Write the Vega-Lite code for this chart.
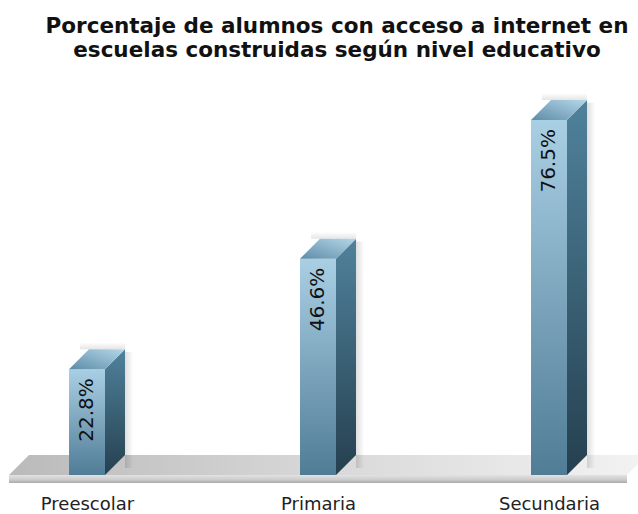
{
"$schema":"https://vega.github.io/schema/vega-lite/v6.json",
"width":638,"height":404,
"autosize":{"type":"none"},
"padding":{"top":80,"left":0,"right":0,"bottom":30},
"background":"white",
"view":{"stroke":null},
"title":{"text":["Porcentaje de alumnos con acceso a internet en","escuelas construidas según nivel educativo"],"anchor":"middle","dx":18,"offset":19,"font":"DejaVu Sans","fontSize":21.5,"fontWeight":"bold","lineHeight":24,"color":"#111111"},
"datasets":{
"bars":[
{"nivel":"Preescolar","pos":0,"xa":-0.0779,"xb":0.0779,"base":0,"valor":22.8,"etiqueta":"22.8%","sa":0.1645,"sb":0.2,"tx":-0.03,"sy":26.5,"sy2":1.5,"ty":27.11,"ty2":28.6},
{"nivel":"Primaria","pos":1,"xa":0.9221,"xb":1.0779,"base":0,"valor":46.6,"etiqueta":"46.6%","sa":1.1645,"sb":1.2,"tx":0.97,"sy":50.3,"sy2":1.5,"ty":50.91,"ty2":52.4},
{"nivel":"Secundaria","pos":2,"xa":1.9221,"xb":2.0779,"base":0,"valor":76.5,"etiqueta":"76.5%","sa":2.1645,"sb":2.2,"tx":1.97,"sy":80.2,"sy2":1.5,"ty":80.81,"ty2":82.3}
],
"sides":[
{"nivel":"Preescolar","x":0.0779,"y":22.8,"y2":0},{"nivel":"Preescolar","x":0.1645,"y":27.11,"y2":4.31},
{"nivel":"Primaria","x":1.0779,"y":46.6,"y2":0},{"nivel":"Primaria","x":1.1645,"y":50.91,"y2":4.31},
{"nivel":"Secundaria","x":2.0779,"y":76.5,"y2":0},{"nivel":"Secundaria","x":2.1645,"y":80.81,"y2":4.31}
],
"tops":[
{"nivel":"Preescolar","x":-0.0779,"y":22.8,"y2":22.8},{"nivel":"Preescolar","x":0.0087,"y":27.11,"y2":22.8},{"nivel":"Preescolar","x":0.0779,"y":27.11,"y2":22.8},{"nivel":"Preescolar","x":0.1645,"y":27.11,"y2":27.11},
{"nivel":"Primaria","x":0.9221,"y":46.6,"y2":46.6},{"nivel":"Primaria","x":1.0087,"y":50.91,"y2":46.6},{"nivel":"Primaria","x":1.0779,"y":50.91,"y2":46.6},{"nivel":"Primaria","x":1.1645,"y":50.91,"y2":50.91},
{"nivel":"Secundaria","x":1.9221,"y":76.5,"y2":76.5},{"nivel":"Secundaria","x":2.0087,"y":80.81,"y2":76.5},{"nivel":"Secundaria","x":2.0779,"y":80.81,"y2":76.5},{"nivel":"Secundaria","x":2.1645,"y":80.81,"y2":80.81}
],
"floor":[
{"x":-0.3377,"y":0,"y2":0},{"x":-0.2511,"y":4.31,"y2":0},{"x":2.3377,"y":4.31,"y2":0},{"x":2.3853,"y":4.31,"y2":2.37}
],
"band":[{"xa":-0.3377,"xb":2.3377,"y":0,"y2":-1.7}]
},
"layer":[
{"data":{"name":"floor"},
 "mark":{"type":"area","orient":"vertical","fill":{"gradient":"linear","x1":0,"y1":0,"x2":1,"y2":0,"stops":[{"offset":0,"color":"#bababa"},{"offset":0.5,"color":"#d8d8d8"},{"offset":1,"color":"#f2f2f2"}]}},
 "encoding":{
  "x":{"field":"x","type":"quantitative","scale":{"domain":[-0.37662,2.38528],"nice":false,"zero":false},"axis":{"values":[0,1,2],"labelExpr":"datum.value==0?'Preescolar':datum.value==1?'Primaria':'Secundaria'","title":null,"domain":false,"ticks":false,"grid":false,"labelFont":"DejaVu Sans","labelFontSize":18,"labelColor":"#222222","labelPadding":11,"labelFlush":false,"labelOverlap":false}},
  "y":{"field":"y","type":"quantitative","scale":{"domain":[-1.94,85.13],"nice":false,"zero":false},"axis":null},
  "y2":{"field":"y2"}}},
{"data":{"name":"band"},
 "mark":{"type":"rect","fill":{"gradient":"linear","x1":0,"y1":0,"x2":0,"y2":1,"stops":[{"offset":0,"color":"#e2e2e2"},{"offset":0.6,"color":"#cccccc"},{"offset":1,"color":"#aaaaaa"}]}},
 "encoding":{"x":{"field":"xa","type":"quantitative"},"x2":{"field":"xb"},"y":{"field":"y","type":"quantitative"},"y2":{"field":"y2"}}},
{"data":{"name":"bars"},
 "mark":{"type":"rect","fill":{"gradient":"linear","x1":0,"y1":0,"x2":1,"y2":0,"stops":[{"offset":0,"color":"rgba(0,0,0,0.13)"},{"offset":1,"color":"rgba(0,0,0,0)"}]}},
 "encoding":{"x":{"field":"sa","type":"quantitative"},"x2":{"field":"sb"},"y":{"field":"sy","type":"quantitative"},"y2":{"field":"sy2"}}},
{"data":{"name":"bars"},
 "mark":{"type":"rect","fill":{"gradient":"linear","x1":0,"y1":1,"x2":0,"y2":0,"stops":[{"offset":0,"color":"rgba(0,0,0,0.1)"},{"offset":1,"color":"rgba(0,0,0,0)"}]}},
 "encoding":{"x":{"field":"tx","type":"quantitative"},"x2":{"field":"sa"},"y":{"field":"ty","type":"quantitative"},"y2":{"field":"ty2"}}},
{"data":{"name":"sides"},
 "mark":{"type":"area","orient":"vertical","fill":{"gradient":"linear","x1":0,"y1":0,"x2":0,"y2":1,"stops":[{"offset":0,"color":"#50829c"},{"offset":1,"color":"#25404f"}]}},
 "encoding":{"x":{"field":"x","type":"quantitative"},"y":{"field":"y","type":"quantitative"},"y2":{"field":"y2"},"detail":{"field":"nivel"}}},
{"data":{"name":"bars"},
 "mark":{"type":"rect","fill":{"gradient":"linear","x1":0,"y1":0,"x2":0,"y2":1,"stops":[{"offset":0,"color":"#a9cfe4"},{"offset":1,"color":"#507c96"}]}},
 "encoding":{"x":{"field":"xa","type":"quantitative"},"x2":{"field":"xb"},"y":{"field":"valor","type":"quantitative"},"y2":{"field":"base"}}},
{"data":{"name":"tops"},
 "mark":{"type":"area","orient":"vertical","fill":{"gradient":"linear","x1":0,"y1":1,"x2":1,"y2":0,"stops":[{"offset":0,"color":"#5d8ca8"},{"offset":1,"color":"#b5d7e8"}]}},
 "encoding":{"x":{"field":"x","type":"quantitative"},"y":{"field":"y","type":"quantitative"},"y2":{"field":"y2"},"detail":{"field":"nivel"}}},
{"data":{"name":"bars"},
 "mark":{"type":"text","angle":270,"align":"right","baseline":"middle","dx":-9,"font":"DejaVu Sans","fontSize":20,"color":"#111111"},
 "encoding":{"x":{"field":"pos","type":"quantitative"},"y":{"field":"valor","type":"quantitative"},"text":{"field":"etiqueta"}}}
]
}
